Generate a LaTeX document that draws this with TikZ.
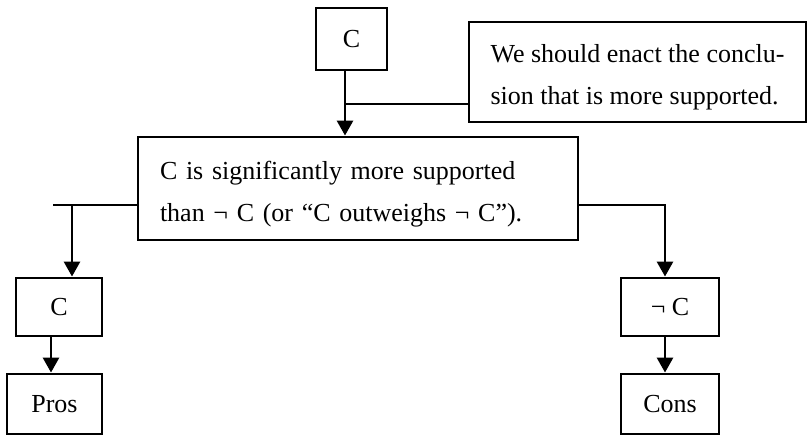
\documentclass[tikz,border=0pt]{standalone}
\usepackage{fontspec}
\setmainfont{Liberation Serif}
\usetikzlibrary{arrows.meta}

\begin{document}
\begin{tikzpicture}[x=1pt, y=-1pt, line width=2.9pt]
	\tikzstyle{box} = [rectangle, draw=black, inner sep=0pt, font=\fontsize{26}{42}\selectfont]
	\tikzstyle{claim} = [box, align=left]
	\tikzstyle{flow} = [-{Triangle[width=16pt,length=15pt]}]
	\useasboundingbox (0,0) rectangle (808,436);
	% conclusion, warrant and claim
	\node[box, minimum width=71pt, minimum height=62pt](topC) at (351.5,39){C};
	\node[claim, minimum width=337pt, minimum height=100pt](premise) at (637.5,72){\rule{0pt}{29pt}We should enact the conclu-\\sion that is more supported.};
	\node[claim, inner xsep=22pt, text width=396pt, minimum height=103pt](mid) at (358,188.5){\rule{0pt}{29pt}C is significantly more supported\\than ¬ C (or “C outweighs ¬ C”).};
	% both sides
	\node[box, minimum width=86pt, minimum height=58pt](leftC) at (59,307){C};
	\node[box, minimum width=98pt, minimum height=58pt](negC) at (670,307){¬ C};
	\node[box, minimum width=95pt, minimum height=60pt](pros) at (54.5,404){Pros};
	\node[box, minimum width=98pt, minimum height=60pt](cons) at (670,404){Cons};
	\coordinate (j1) at (345,104);
	\coordinate (lend) at (53,205);
	\coordinate (lturn) at (72,205);
	\coordinate (rturn) at (665,205);
	\draw (premise.west |- j1) -- (j1);
	\draw[flow] ([xshift=-6.5pt]topC.south) -- ([xshift=-6.5pt]topC.south |- mid.north);
	\draw (mid.west |- lend) -- (lend);
	\draw[flow] (lturn) -- (lturn |- leftC.north);
	\draw[flow] (mid.east |- rturn) -- (rturn) -- (rturn |- negC.north);
	\draw[flow] ([xshift=-8pt]leftC.south) -- ([xshift=-8pt]leftC.south |- pros.north);
	\draw[flow] ([xshift=-5pt]negC.south) -- ([xshift=-5pt]negC.south |- cons.north);
\end{tikzpicture}
\end{document}
